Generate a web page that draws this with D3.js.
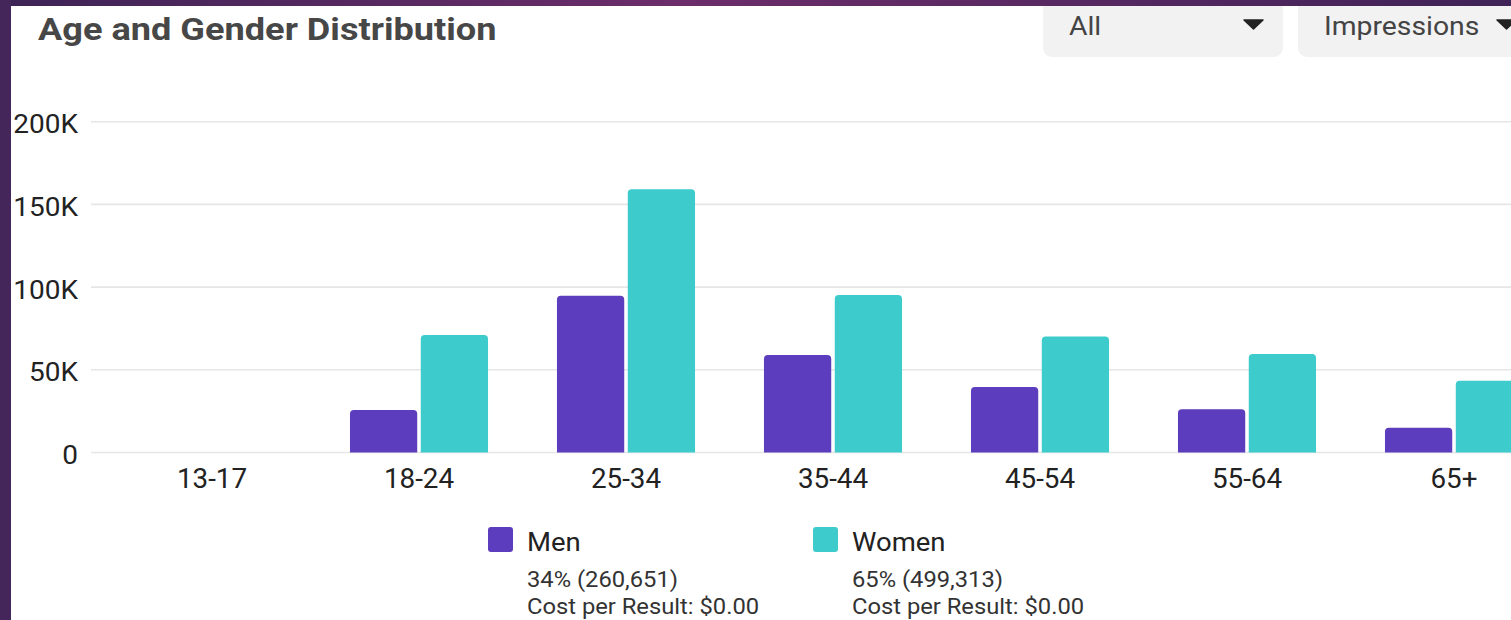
<!DOCTYPE html>
<html>
<head>
<meta charset="utf-8">
<script src="https://cdn.jsdelivr.net/npm/d3@7"></script>
<style>
  html, body { margin: 0; padding: 0; background: #fff; }
  svg { display: block; font-family: Roboto, "Noto Sans", sans-serif; }
</style>
</head>
<body>
<svg id="chart" width="1511" height="620"></svg>
<script>
const categories = ['13-17', '18-24', '25-34', '35-44', '45-54', '55-64', '65+'];
const menValues = [0, 25700, 94800, 58900, 39600, 26100, 15000];
const womenValues = [0, 71000, 159100, 95200, 70200, 59600, 43400];
const yTicks = [0, 50000, 100000, 150000, 200000];
const yTickLabels = ['0', '50K', '100K', '150K', '200K'];
const seriesNames = ['Men', 'Women'];
const seriesColors = ['#5c3dbd', '#3dcccb'];
const seriesDetails = ['34% (260,651)', '65% (499,313)'];
const costLabel = 'Cost per Result: $0.00';
const titleText = 'Age and Gender Distribution';
const dropdownLabels = ['All', 'Impressions'];

const svg = d3.select('#chart');
const W = 1511, H = 620;

// helper: text drawn with a slight horizontal stretch (matching the reference's wide glyphs)
function stretchedText(parent, xp, yp, str, sx, anchor) {
  const g = parent.append('g').attr('transform', `translate(${xp},${yp}) scale(${sx},1)`);
  return g.append('text').attr('x', 0).attr('y', 0).attr('text-anchor', anchor || 'start').text(str);
}

// background
svg.append('rect').attr('width', W).attr('height', H).attr('fill', '#ffffff');

// scales
const x0 = d3.scaleBand().domain(categories).range([108.5, 1557.5]).paddingInner(0.333).paddingOuter(0.1665);
const x1 = d3.scaleBand().domain(seriesNames).range([0, x0.bandwidth()]).paddingInner(0.05);
const y = d3.scaleLinear().domain([0, 200000]).range([452.5, 121.7]);

// gridlines
svg.append('g').selectAll('line').data(yTicks).join('line')
  .attr('x1', 91).attr('x2', W)
  .attr('y1', d => y(d)).attr('y2', d => y(d))
  .attr('stroke', '#e6e6e6').attr('stroke-width', 1.6);

// y labels
const yl = svg.append('g').attr('font-size', 25).attr('fill', '#222');
yTicks.forEach((t, i) => stretchedText(yl, 78, y(t) + 11.5, yTickLabels[i], 1.12, 'end'));

// bars
const rows = categories.map((c, i) => ({ cat: c, vals: [menValues[i], womenValues[i]] }));
function topRounded(xp, yp, w, h, r) {
  if (h <= 0) return '';
  r = Math.min(r, h, w / 2);
  return `M${xp},${yp + h}V${yp + r}Q${xp},${yp} ${xp + r},${yp}H${xp + w - r}Q${xp + w},${yp} ${xp + w},${yp + r}V${yp + h}Z`;
}
const groups = svg.append('g').selectAll('g').data(rows).join('g')
  .attr('transform', d => `translate(${x0(d.cat)},0)`);
groups.selectAll('path').data(d => d.vals.map((v, k) => ({ v, k }))).join('path')
  .attr('d', d => topRounded(x1(seriesNames[d.k]), y(d.v), x1.bandwidth(), y(0) - y(d.v), 4))
  .attr('fill', d => seriesColors[d.k]);

// x labels
const xl = svg.append('g').attr('font-size', 27).attr('fill', '#222');
categories.forEach(c => stretchedText(xl, x0(c) + x0.bandwidth() / 2, 488, c, 1.03, 'middle'));

// legend
const legendX = [488, 813];
seriesNames.forEach((name, i) => {
  const lg = svg.append('g').attr('transform', `translate(${legendX[i]},0)`);
  lg.append('rect').attr('x', 0).attr('y', 527).attr('width', 25).attr('height', 25).attr('rx', 3)
    .attr('fill', seriesColors[i]);
  stretchedText(lg, 39, 551, name, 1.1).attr('font-size', 25).attr('fill', '#222');
  stretchedText(lg, 39, 587, seriesDetails[i], 1.08).attr('font-size', 22).attr('fill', '#333');
  stretchedText(lg, 39, 614, costLabel, 1.08).attr('font-size', 22).attr('fill', '#333');
});

// title
stretchedText(svg, 38, 40, titleText, 1.13)
  .attr('font-size', 32).attr('font-weight', 700).attr('fill', '#474747');

// dropdowns
const ddX = [1043, 1298];
const ddW = [240, 260];
const caretX = [1244, 1497];
dropdownLabels.forEach((lab, i) => {
  const g = svg.append('g');
  g.append('rect').attr('x', ddX[i]).attr('y', -12).attr('width', ddW[i]).attr('height', 69)
    .attr('rx', 9).attr('fill', '#f2f2f2');
  stretchedText(g, ddX[i] + 26, 35, lab, 1.09).attr('font-size', 26).attr('fill', '#444');
  g.append('path').attr('d', `M${caretX[i]},20H${caretX[i] + 19}L${caretX[i] + 9.5},29Z`)
    .attr('fill', '#222').attr('stroke', '#222').attr('stroke-width', 1.5).attr('stroke-linejoin', 'round');
});

// frame (purple border)
const defs = svg.append('defs');
const grad = defs.append('linearGradient').attr('id', 'topGrad').attr('x1', 0).attr('x2', 1).attr('y1', 0).attr('y2', 0);
grad.append('stop').attr('offset', '0%').attr('stop-color', '#3e2456');
grad.append('stop').attr('offset', '45%').attr('stop-color', '#6c2d6a');
grad.append('stop').attr('offset', '100%').attr('stop-color', '#3f2357');
svg.append('rect').attr('x', 0).attr('y', 0).attr('width', W).attr('height', 6).attr('fill', 'url(#topGrad)');
svg.append('rect').attr('x', 0).attr('y', 0).attr('width', 11).attr('height', H).attr('fill', '#44265a');
</script>
</body>
</html>
